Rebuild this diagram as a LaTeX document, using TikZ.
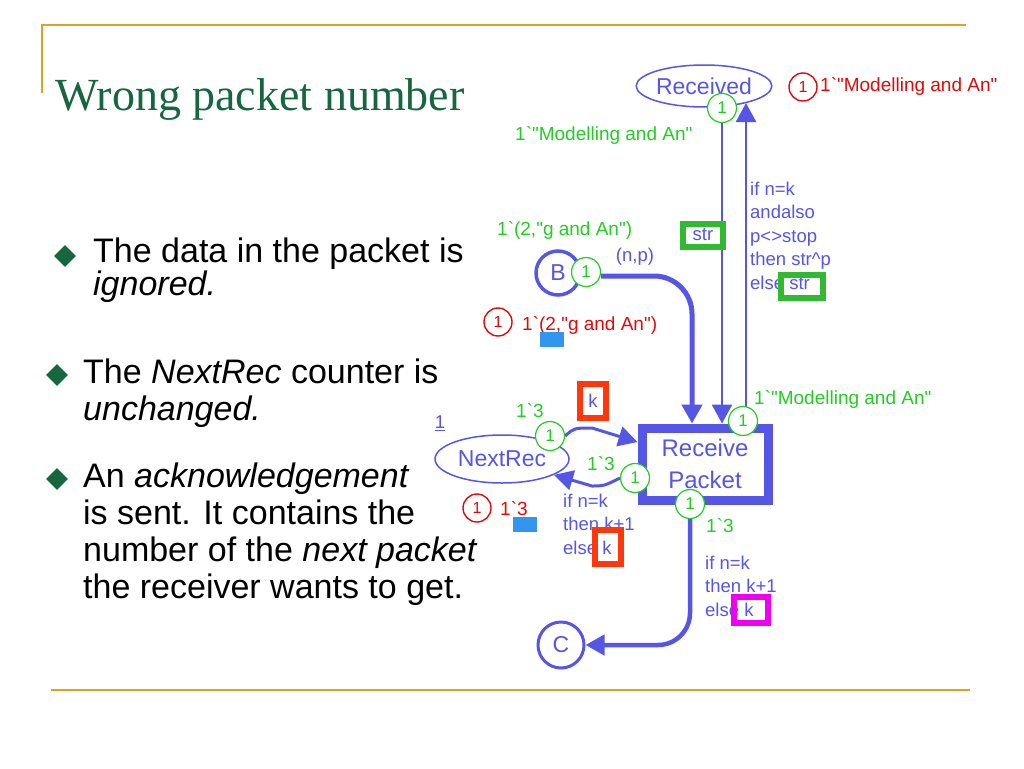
\documentclass[tikz,border=0pt]{standalone}
\usepackage{fontspec}
\newfontfamily\arial{Liberation Sans}
\newfontfamily\titlefont{Liberation Serif}
\usetikzlibrary{arrows.meta,shapes.geometric,backgrounds,calc}
\definecolor{pblue}{RGB}{85,85,230}
\definecolor{tgreen}{RGB}{35,205,35}
\definecolor{mred}{RGB}{225,10,10}
\definecolor{bgreen}{RGB}{50,185,50}
\definecolor{kred}{RGB}{255,55,10}
\definecolor{mag}{RGB}{240,0,240}
\definecolor{lblue}{RGB}{50,150,240}
\definecolor{titlegreen}{RGB}{22,102,62}
\definecolor{gold}{RGB}{215,165,35}
\newcommand\bkq{\textasciigrave}
\begin{document}
\begin{tikzpicture}[x=1pt,y=-1pt,
  pnarc/.style={draw=pblue, -{Triangle[length=19pt,width=20pt]}},
  pl/.style={draw=pblue, text=pblue, inner sep=0pt, font=\arial\fontsize{23}{23}\selectfont},
  tok/.style={circle, draw=tgreen, fill=white, line width=1.2pt, text=tgreen, minimum size=29pt, inner sep=0pt, font=\arial\fontsize{17}{17}\selectfont},
  rtok/.style={circle, draw=mred, line width=1.4pt, text=mred, minimum size=28pt, inner sep=0pt, font=\arial\fontsize{16}{16}\selectfont},
  ins/.style={text=pblue, align=left, anchor=north west, inner sep=0pt, font=\arial\fontsize{18.5}{23.5}\selectfont},
  lab/.style={text=pblue, inner sep=0pt, font=\arial\fontsize{18.5}{18.5}\selectfont},
  gtx/.style={text=tgreen, anchor=base west, inner sep=0pt, font=\arial\fontsize{19}{19}\selectfont},
  rtx/.style={text=mred, anchor=base west, inner sep=0pt, font=\arial\fontsize{19}{19}\selectfont},
  hl/.style={draw=#1, line width=6pt, inner sep=0pt},
  mk/.style={fill=lblue, inner sep=0pt, minimum width=24pt, minimum height=15pt},
  bul/.style={diamond, fill=titlegreen, minimum size=22pt, inner sep=0pt},
  btx/.style={anchor=north west, align=left, inner sep=0pt}
]
\useasboundingbox (0,0) rectangle (1024,768);

% frame lines
\draw[gold, line width=2pt] (42,93) -- (42,25) -- (966,25);
\draw[gold, line width=2pt] (51,690) -- (970,690);

% title
\node[anchor=base west, inner sep=0pt, text=titlegreen, font=\titlefont\fontsize{46}{46}\selectfont] (title) at (55,110) {Wrong packet number};

% bullets
\node[bul] (d1) at (65,256) {};
\node[btx, font=\arial\fontsize{34}{29}\selectfont] (b1) at (93,237.6) {The data in the packet is\\\textit{ignored.}};
\node[bul] (d2) at (57,375) {};
\node[btx, font=\arial\fontsize{34}{37}\selectfont] (b2) at (83,358.6) {The \textit{NextRec} counter is\\\textit{unchanged.}};
\node[bul] (d3) at (57,479) {};
\node[btx, font=\arial\fontsize{34}{37}\selectfont] (b3) at (83,462.6) {An \textit{acknowledgement}\\is sent. It contains the\\number of the \textit{next packet}\\the receiver wants to get.};

% places and transition
\node[pl, ellipse, line width=1.5pt, minimum width=134pt, minimum height=42pt] (Rec) at (704,86) {Received};
\node[pl, circle, line width=3.5pt, minimum size=44pt] (B) at (558,273) {B};
\node[pl, ellipse, line width=1.5pt, minimum width=134pt, minimum height=48pt] (NR) at (502,459) {NextRec};
\node[pl, circle, line width=3pt, minimum size=46pt] (C) at (561,645) {C};
\node[pl, rectangle, fill=white, line width=9pt, minimum width=126pt, minimum height=72pt, align=center, font=\arial\fontsize{24}{32}\selectfont] (RP) at (705,464) {Receive\\Packet};

% tokens
\node[tok] (Rtok) at (722,108) {1};
\node[tok] (Btok) at (586,272) {1};
\node[tok] (NRtok) at (550,436) {1};
\node[tok] (RPt) at (743,421) {1};
\node[tok] (RPl) at (635,478) {1};
\node[tok] (RPb) at (690,504) {1};

% arcs
\coordinate (Bturn) at (692,276);
\coordinate (upx) at (746,103);
\coordinate (NRmid) at (592,428);
\coordinate (RPmid) at (592,486);
\coordinate (RPin) at ($(RP.west)+(0,-22)$);
\begin{pgfonlayer}{background}
\fill[white] (0,0) rectangle (1024,768);
\draw[pnarc, line width=5pt, rounded corners=38pt] (Btok.east |- Bturn) -- (Bturn) -- (Bturn |- RP.north);
\draw[pnarc, line width=2.5pt] (Rtok.south) -- (Rtok.south |- RP.north);
\draw[pnarc, line width=2.5pt] (RP.north -| upx) -- (upx);
\draw[pnarc, line width=3pt] (NRtok.east) .. controls (574,428) .. (NRmid) -- (RPin);
\draw[pnarc, line width=3pt] (RPl.west) .. controls (604,486) .. (RPmid) -- (NR.-17);
\draw[pnarc, line width=4.5pt, rounded corners=32pt] (RPb.south) -- (RPb.south |- C) -- (C);
\end{pgfonlayer}

% inscriptions and highlight boxes
\node[ins] (i1) at (750,181.5) {if n=k\\andalso\\p<>stop\\then str\textasciicircum p\\else str};
\node[hl=bgreen, minimum width=42pt, minimum height=23pt] (sb2) at (802,286) {};
\node[hl=bgreen, fill=white, minimum width=40pt, minimum height=23pt, text=pblue, font=\arial\fontsize{18.5}{18.5}\selectfont] (sb1) at (703,235) {str};
\node[ins] (i2) at (563,493.5) {if n=k\\then k+1\\else k};
\node[hl=kred, minimum width=26pt, minimum height=34pt] (kb2) at (608,547) {};
\node[hl=kred, fill=white, minimum width=26pt, minimum height=34pt, text=pblue, font=\arial\fontsize{18.5}{18.5}\selectfont] (kb1) at (593,401) {k};
\node[ins] (i3) at (705,555.5) {if n=k\\then k+1\\else k};
\node[hl=mag, minimum width=34pt, minimum height=26pt] (mb) at (751,610) {};

% markings and labels
\node[rtok] (r1) at (803,87) {1};
\node[rtx] (rt1) at (820,91) {1\bkq"Modelling and An"};
\node[gtx] (gt1) at (515,140) {1\bkq"Modelling and An"};
\node[gtx] (gt2) at (497,235) {1\bkq(2,"g and An")};
\node[lab] (np) at (635,257) {(n,p)};
\node[rtok] (r2) at (498,322) {1};
\node[rtx] (rt2) at (522,330) {1\bkq(2,"g and An")};
\node[mk] (m1) at (552,339.5) {};
\node[gtx] (gt3) at (516,417) {1\bkq3};
\node[lab] (one) at (440,423) {\underline{1}};
\node[gtx] (gt4) at (587,470) {1\bkq3};
\node[rtok] (r3) at (477,508) {1};
\node[rtx] (rt3) at (500,515) {1\bkq3};
\node[mk] (m2) at (525,524.5) {};
\node[gtx] (gt5) at (754,404) {1\bkq"Modelling and An"};
\node[gtx] (gt6) at (706,532) {1\bkq3};
\end{tikzpicture}
\end{document}
